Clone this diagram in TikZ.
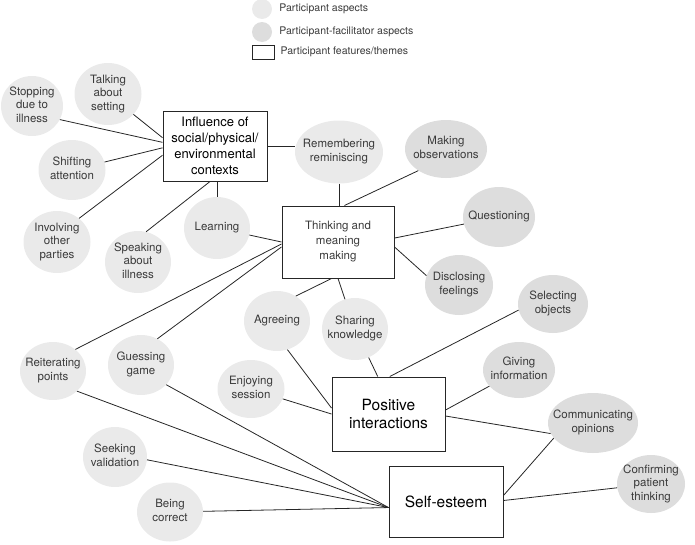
\documentclass[tikz,border=0pt]{standalone}
\usepackage{fontspec}
\setmainfont{TeX Gyre Heros}
\usetikzlibrary{shapes.geometric,positioning}

\definecolor{partfill}{HTML}{EAEAEA}
\definecolor{facfill}{HTML}{DDDDDD}
\definecolor{inkgrey}{HTML}{3A3A3A}

\newcommand{\etext}[1]{\makebox[0pt]{\begin{tabular}{@{}c@{}}#1\end{tabular}}}

\begin{document}
\begin{tikzpicture}[x=1pt,y=-1pt,
  part/.style={ellipse,fill=partfill,inner sep=0pt,minimum width=66pt,minimum height=60pt,
    text=inkgrey,font=\fontsize{11.5}{13.5}\selectfont},
  facil/.style={part,fill=facfill},
  theme/.style={draw=black!85,line width=1pt,inner sep=0pt,align=center},
  keytext/.style={inner sep=0pt,text=inkgrey,font=\fontsize{10.5}{12}\selectfont},
  link/.style={line width=0.8pt,black!85}]
  \useasboundingbox (0,0) rectangle (695,544);

  \node[circle,fill=partfill,minimum size=20pt,inner sep=0pt] (key1) at (262,9) {};
  \node[circle,fill=facfill,minimum size=20pt,inner sep=0pt] (key2) at (262,32) {};
  \node[draw=black!85,line width=0.9pt,minimum width=22pt,minimum height=14pt,inner sep=0pt] (key3) at (263,52) {};
  \node[keytext,right=7pt of key1] {Participant aspects};
  \node[keytext,right=7pt of key2] {Participant-facilitator aspects};
  \node[keytext,right=6pt of key3] {Participant features/themes};

  \node[theme,minimum width=104pt,minimum height=70pt,font=\fontsize{13}{16}\selectfont] (context) at (215,146)
    {Influence of\\social/physical/\\environmental\\contexts};
  \node[theme,minimum width=112pt,minimum height=72pt,text=inkgrey,font=\fontsize{11.5}{15}\selectfont] (thinking) at (338,242)
    {Thinking and\\meaning\\making};
  \node[theme,minimum width=113pt,minimum height=74pt,font=\fontsize{15.5}{18.5}\selectfont] (positive) at (388.5,414)
    {Positive\\interactions};
  \node[theme,minimum width=114pt,minimum height=71pt,font=\fontsize{15.5}{18.5}\selectfont] (selfesteem) at (446,501.5)
    {Self-esteem};

  \node[part,minimum width=67pt,minimum height=62pt] (talking) at (108,94) {\etext{Talking\\about\\setting}};
  \node[part,minimum width=62pt] (stopping) at (32,106) {\etext{Stopping\\due to\\illness}};
  \node[part,minimum width=67pt] (shifting) at (72,170) {\etext{Shifting\\attention}};
  \node[part,minimum width=67pt,minimum height=62pt] (involving) at (57,242) {\etext{Involving\\other\\parties}};
  \node[part,minimum height=62pt] (speaking) at (138,262) {\etext{Speaking\\about\\illness}};
  \node[part,minimum height=62pt] (learning) at (217,228) {\etext{Learning}};
  \node[part,minimum width=88pt,minimum height=63pt] (remembering) at (339,152) {\etext{Remembering\\reminiscing}};
  \node[facil,minimum width=82pt,minimum height=58pt] (observations) at (446,149) {\etext{Making\\observations}};
  \node[facil,minimum width=72pt] (questioning) at (499,217) {\etext{Questioning}};
  \node[facil,minimum width=68pt] (disclosing) at (459,285) {\etext{Disclosing\\feelings}};
  \node[facil,minimum width=70pt,minimum height=58pt] (selecting) at (553,304) {\etext{Selecting\\objects}};
  \node[part,minimum height=62pt] (sharing) at (355,329) {\etext{Sharing\\knowledge}};
  \node[part] (agreeing) at (277,321) {\etext{Agreeing}};
  \node[facil,minimum width=72pt,minimum height=56pt] (giving) at (519,370) {\etext{Giving\\information}};
  \node[facil,minimum width=90pt] (communicating) at (593,423) {\etext{Communicating\\opinions}};
  \node[facil,minimum width=68pt,minimum height=58pt] (confirming) at (651,484) {\etext{Confirming\\patient\\thinking}};
  \node[part,minimum width=67pt,minimum height=58pt] (enjoying) at (251,389) {\etext{Enjoying\\session}};
  \node[part,minimum height=58pt] (reiterating) at (53,371) {\etext{Reiterating\\points}};
  \node[part] (guessing) at (141,365) {\etext{Guessing\\game}};
  \node[part,minimum width=64pt] (seeking) at (115,457) {\etext{Seeking\\validation}};
  \node[part,minimum height=59pt] (correct) at (170,512) {\etext{Being\\correct}};

  \draw[link] (talking) -- (context.171);
  \draw[link] (stopping.334) -- (context.176);
  \draw[link] (shifting) -- (context.182);
  \draw[link] (involving.47) -- (context.190);
  \draw[link] (speaking.75) -- (context.262);
  \draw[link] (learning.north) -- (learning.north |- context.south);
  \draw[link] (context.east) -- (context.east -| remembering.west);

  \draw[link] (remembering.south) -- (remembering.south |- thinking.north);
  \draw[link] (observations.218) -- (thinking.80);
  \draw[link] (questioning) -- (thinking.4);
  \draw[link] (disclosing.164) -- (thinking.355);
  \draw[link] (learning) -- (thinking.west);
  \draw[link] (reiterating.44) -- (thinking.182);
  \draw[link] (guessing.58) -- (thinking.185);
  \draw[link] (agreeing.53) -- (thinking.260);
  \draw[link] (sharing) -- (thinking.south);

  \draw[link] (agreeing.290) -- (positive.174);
  \draw[link] (enjoying) -- (positive.west);
  \draw[link] (sharing) -- (positive.106);
  \draw[link] (selecting.190) -- (positive.88);
  \draw[link] (giving) -- (positive.4);
  \draw[link] (communicating.194) -- (positive.358);

  \draw[link] (reiterating.320) -- (selfesteem.186);
  \draw[link] (guessing.322) -- (selfesteem.186);
  \draw[link] (seeking.355) -- (selfesteem.186);
  \draw[link] (correct) -- (selfesteem.186);
  \draw[link] (communicating.201) -- (selfesteem.6);
  \draw[link] (confirming) -- (selfesteem.1);
\end{tikzpicture}
\end{document}
